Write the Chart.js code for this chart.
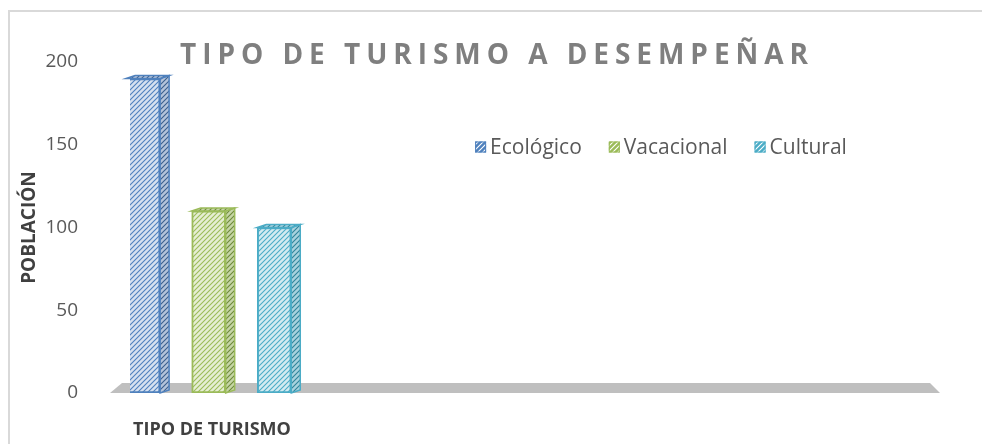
<!DOCTYPE html>
<html>
<head>
<meta charset="utf-8">
<script src="https://cdn.jsdelivr.net/npm/chart.js@4.4.1/dist/chart.umd.min.js"></script>
<style>
  html, body { margin: 0; padding: 0; background: #fff; }
  #wrap { position: relative; width: 982px; height: 444px; }
  #wrap:before { content: ''; position: absolute; left: 8px; top: 10px; right: 0; bottom: 0;
    border-left: 2px solid #d9d9d9; border-top: 2px solid #d9d9d9; }
</style>
</head>
<body>
<div id="wrap"><canvas id="myCanvas" width="982" height="444"></canvas></div>
<script>
// datos
const chartTitle = 'TIPO DE TURISMO A DESEMPEÑAR'
const xTitle = 'TIPO DE TURISMO'
const yTitle = 'POBLACIÓN'
const categories = ['Ecológico', 'Vacacional', 'Cultural']
const values = [190, 110, 100]
const yTicks = [0, 50, 100, 150, 200]

const lineColors = ['#4f81bd', '#9bbb59', '#4bacc6']
const lightColors = ['#d6e1f0', '#e6eed3', '#d3ebf1']
const sideLines = ['#3a5f8e', '#6d8a3a', '#2f8599']
const sideBgs = ['#b4c3da', '#c6d5a6', '#a8d2de']

const FONT = "'Open Sans', sans-serif"

function hatch(line, bg) {
    const c = document.createElement('canvas')
    c.width = c.height = 5
    const x = c.getContext('2d')
    x.fillStyle = bg
    x.fillRect(0, 0, 5, 5)
    x.strokeStyle = line
    x.lineWidth = 1.1
    x.beginPath()
    x.moveTo(0, 5); x.lineTo(5, 0)
    x.moveTo(-2.5, 2.5); x.lineTo(2.5, -2.5)
    x.moveTo(2.5, 7.5); x.lineTo(7.5, 2.5)
    x.stroke()
    return x.createPattern(c, 'repeat')
}

const datasets = categories.map((name, i) => ({
    label: name,
    data: [{ x: i, y: values[i] }],
    backgroundColor: hatch(lineColors[i], lightColors[i]),
    borderColor: lineColors[i],
    borderWidth: 2,
    borderSkipped: false,
    barThickness: 34,
    grouped: false,
    sideFill: hatch(sideLines[i], sideBgs[i]),
    legendFill: hatch('#ffffff', lineColors[i])
}))

// piso gris y caras laterales de las barras
const bar3d = {
    id: 'bar3d',
    beforeDatasetsDraw(chart) {
        const { ctx, chartArea: a } = chart
        ctx.save()
        ctx.fillStyle = '#bfbfbf'
        ctx.beginPath()
        ctx.moveTo(a.left - 20, a.bottom)
        ctx.lineTo(a.left - 8, a.bottom - 10)
        ctx.lineTo(a.right, a.bottom - 10)
        ctx.lineTo(a.right + 10, a.bottom)
        ctx.closePath()
        ctx.fill()
        ctx.restore()
    },
    afterDatasetsDraw(chart) {
        const ctx = chart.ctx
        const dx = 9, dy = 3
        chart.data.datasets.forEach((ds, i) => {
            chart.getDatasetMeta(i).data.forEach(bar => {
                const { x, y, base, width } = bar.getProps(['x', 'y', 'base', 'width'], true)
                const l = x - width / 2, r = x + width / 2
                ctx.save()
                ctx.fillStyle = ds.sideFill
                ctx.strokeStyle = ds.borderColor
                ctx.lineWidth = 1.5
                ctx.beginPath()
                ctx.moveTo(r, y)
                ctx.lineTo(r + dx, y - dy)
                ctx.lineTo(r + dx, base - dy)
                ctx.lineTo(r, base)
                ctx.closePath()
                ctx.fill(); ctx.stroke()
                ctx.beginPath()
                ctx.moveTo(l, y)
                ctx.lineTo(l + dx, y - dy)
                ctx.lineTo(r + dx, y - dy)
                ctx.lineTo(r, y)
                ctx.closePath()
                ctx.fill(); ctx.stroke()
                ctx.restore()
            })
        })
    }
}

// título con espaciado de letras, leyenda dentro del área y título del eje x
const titleAndLegend = {
    id: 'titleAndLegend',
    afterDraw(chart) {
        const ctx = chart.ctx
        const a = chart.chartArea
        ctx.save()
        ctx.font = "bold 28px " + FONT
        ctx.fillStyle = '#7f7f7f'
        ctx.textBaseline = 'alphabetic'
        const plain = ctx.measureText(chartTitle).width
        const sp = (628 - plain) / (chartTitle.length - 1)
        ctx.letterSpacing = sp + 'px'
        ctx.textAlign = 'left'
        ctx.fillText(chartTitle, 494 - 314, 64)
        ctx.restore()

        ctx.save()
        ctx.font = "21px " + FONT
        ctx.textBaseline = 'middle'
        const box = 11, gap = 4, itemGap = 27
        const items = chart.data.datasets.map(ds => ({ ds, w: ctx.measureText(ds.label).width }))
        const total = items.reduce((s, it) => s + box + gap + it.w, 0) + itemGap * (items.length - 1)
        let x = 661 - total / 2
        const cy = 147
        items.forEach(it => {
            ctx.fillStyle = it.ds.legendFill
            ctx.fillRect(x, cy - box / 2, box, box)
            ctx.strokeStyle = it.ds.borderColor
            ctx.lineWidth = 1
            ctx.strokeRect(x + 0.5, cy - box / 2 + 0.5, box - 1, box - 1)
            ctx.fillStyle = '#595959'
            ctx.fillText(it.ds.label, x + box + gap, cy + 1)
            x += box + gap + it.w + itemGap
        })
        ctx.restore()

        ctx.save()
        ctx.font = "bold 18px " + FONT
        ctx.fillStyle = '#404040'
        ctx.textBaseline = 'middle'
        ctx.textAlign = 'left'
        ctx.fillText(xTitle, a.left + 3, a.bottom + 37)
        ctx.restore()
    }
}

new Chart(document.getElementById('myCanvas'), {
    type: 'bar',
    data: { datasets: datasets },
    options: {
        responsive: false,
        animation: false,
        events: [],
        layout: { padding: { top: 62, left: 10, right: 52, bottom: 51 } },
        plugins: {
            legend: { display: false },
            title: { display: false },
            tooltip: { enabled: false }
        },
        scales: {
            x: {
                type: 'linear',
                display: false,
                offset: false,
                min: -0.2,
                max: 12
            },
            y: {
                min: 0,
                max: 200,
                grid: { display: false },
                border: { display: false },
                afterBuildTicks(s) { s.ticks = yTicks.map(v => ({ value: v })) },
                ticks: {
                    padding: 44,
                    color: '#595959',
                    font: { family: FONT, size: 19 }
                },
                title: {
                    display: true,
                    text: yTitle,
                    color: '#404040',
                    font: { family: FONT, size: 19, weight: 'bold' },
                    padding: { top: 8, bottom: 0 }
                },
                afterFit(s) {
                    s.width = 120
                    s.paddingTop = 0
                    s.paddingBottom = 0
                }
            }
        }
    },
    plugins: [bar3d, titleAndLegend]
})
</script>
</body>
</html>
